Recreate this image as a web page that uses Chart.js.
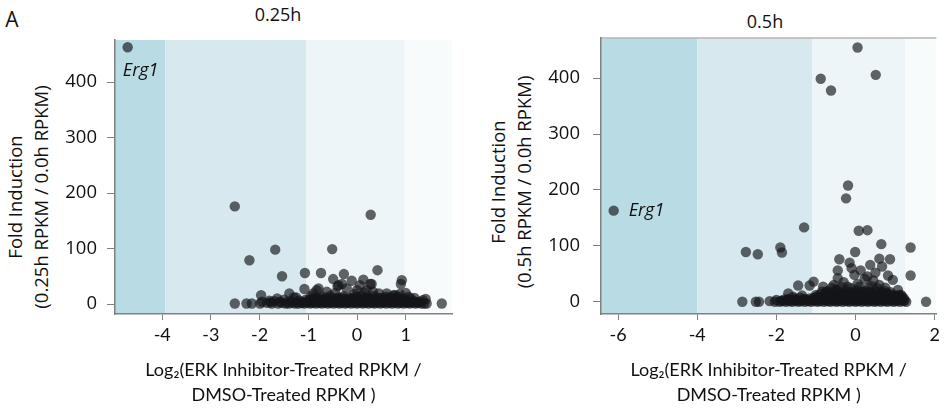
<!DOCTYPE html>
<html>
<head>
<meta charset="utf-8">
<script src="https://cdn.jsdelivr.net/npm/chart.js@4.4.1/dist/chart.umd.min.js"></script>
<style>
  body { margin: 0; background: #fff; width: 944px; height: 410px; position: relative; overflow: hidden;
         font-family: "Open Sans", sans-serif; color: #111; }
  canvas { position: absolute; top: 0; }
  .lbl { position: absolute; white-space: nowrap; transform: translate(-50%, -50%); }
  .ytitle { position: absolute; white-space: nowrap; text-align: center; font-size: 18.5px; line-height: 26px;
            transform: translate(-50%, -50%) rotate(-90deg); }
</style>
</head>
<body>
<div class="lbl" style="left:12px;top:19px;font-size:21px">A</div>
<div class="lbl" style="left:278px;top:14px;font-size:18px">0.25h</div>
<div class="lbl" style="left:765px;top:21px;font-size:18px">0.5h</div>
<div class="ytitle" style="left:28px;top:197px">Fold Induction<br>(0.25h RPKM / 0.0h RPKM)</div>
<div class="ytitle" style="left:511px;top:182px">Fold Induction<br>(0.5h RPKM / 0.0h RPKM)</div>
<canvas id="c1" width="470" height="410" style="left:0"></canvas>
<canvas id="c2" width="470" height="410" style="left:474px"></canvas>
<script>
// tick labels
var xTicks025 = [-4, -3, -2, -1, 0, 1];
var xTicks05 = [-6, -4, -2, 0, 2];
var yTicks = [0, 100, 200, 300, 400];

// shaded band boundaries (log2 ratio)
var bands025 = [-3.94, -1.04, 0.98];
var bands05 = [-4.0, -1.1, 1.25];

// 0.25h: log2 ratio / fold induction
var ratio025 = [
  -4.71, -2.51, 0.28, -1.68, -0.51, -2.21, -1.54, -1.07, -0.74, 0.42, -0.27, -0.49, 0.92, 0.90, 0.13,
  -0.11, -0.40, 0.06, 0.30, -0.31, -1.08, -0.79, -1.97, -1.39, 0.61, 0.75, 0.85, 0.33, -0.21, 0.00,
  0.20, -0.38, 0.27, -0.83, 0.78,
  -2.51, -2.27, -2.16, -1.99, -1.85, -1.75, -1.62, -1.55, -1.47, -1.40, -1.33, -1.27, -1.20, -1.14,
  -1.08, -1.02, -0.96, -0.90, -0.84, -0.78, -0.72, -0.66, -0.60, -0.54, -0.48, -0.42, -0.36, -0.30,
  -0.24, -0.18, -0.12, -0.06, 0.00, 0.06, 0.12, 0.18, 0.24, 0.30, 0.36, 0.42, 0.48, 0.54, 0.60, 0.66,
  0.72, 0.78, 0.84, 0.90, 0.96, 1.02, 1.08, 1.14, 1.20, 1.26, 1.32, 1.38, 1.43, 1.74,
  -1.95, -1.78, -1.70, -1.58, -1.44, -1.36, -1.24, -1.12,
  -1.05, -0.99, -0.93, -0.87, -0.81, -0.75, -0.69, -0.63, -0.57, -0.51, -0.45, -0.39, -0.33, -0.27,
  -0.21, -0.15, -0.09, -0.03, 0.03, 0.09, 0.15, 0.21, 0.27, 0.33, 0.39, 0.45, 0.51, 0.57, 0.63, 0.69,
  0.75, 0.81, 0.87, 0.93, 0.99, 1.05, 1.11, 1.17, 1.23, 1.29, 1.35, 1.41,
  -1.80, -1.64, -1.50, -1.30, -1.18, -1.05, -0.98, -0.90, -0.82, -0.74, -0.66, -0.58, -0.50, -0.42,
  -0.34, -0.26, -0.18, -0.10, -0.02, 0.06, 0.14, 0.22, 0.30, 0.38, 0.46, 0.54, 0.62, 0.70, 0.78, 0.86,
  0.94, 1.02, 1.10, 1.18,
  -0.94, -0.86, -0.78, -0.70, -0.62, -0.54, -0.46, -0.38, -0.30, -0.22, -0.14, -0.06, 0.02, 0.10,
  0.18, 0.26, 0.34, 0.42, 0.50, 0.58, 0.66, 0.74, 0.82, 0.90, 0.98, 1.06,
  -1.25, -0.95, -0.85, -0.70, -0.55, -0.40, -0.28, -0.15, -0.02, 0.10, 0.22, 0.35, 0.48, 0.60, 0.72,
  0.88, 1.00,
  -0.90, -0.62, -0.45, -0.05, 0.15, 0.45, 0.52, 0.68
];
var fold025 = [
  463, 176, 161, 98, 99, 79, 50, 56, 56, 61, 54, 45, 43, 36, 44,
  42, 32, 34, 36, 36, 27, 28, 16, 19, 19, 16, 13, 22, 28, 25,
  25, 34, 36, 25, 16,
  1, 1, 1, 1, 2, 1, 1, 2, 1, 1, 2, 1, 1, 2,
  1, 2, 1, 2, 1, 2, 1, 2, 1, 2, 1, 2, 1, 2,
  1, 2, 1, 2, 1, 2, 1, 2, 1, 2, 1, 2, 1, 2, 1, 2,
  1, 2, 1, 2, 1, 2, 1, 2, 1, 2, 1, 1, 1, 1,
  4, 3, 5, 4, 3, 5, 4, 3,
  4, 5, 3, 4, 5, 3, 4, 5, 3, 4, 5, 3, 4, 5,
  3, 4, 5, 3, 4, 5, 3, 4, 5, 3, 4, 5, 3, 4,
  5, 3, 4, 5, 3, 4, 5, 3, 4, 5, 3, 4,
  7, 9, 6, 10, 8, 12, 6, 8, 7, 9, 6, 8, 7, 9,
  6, 8, 7, 9, 6, 8, 7, 9, 6, 8, 7, 9, 6, 8, 7, 9,
  6, 8, 7, 5,
  10, 11, 9, 10, 11, 9, 10, 11, 9, 10, 11, 9, 10, 11,
  9, 10, 11, 9, 10, 11, 9, 10, 11, 9, 10, 9,
  10, 13, 12, 14, 11, 13, 15, 12, 14, 11, 13, 15, 12, 14, 11,
  13, 12,
  18, 20, 19, 22, 20, 18, 21, 19
];

// 0.5h: log2 ratio / fold induction
var ratio05 = [
  -6.11, 0.05, -0.88, 0.51, -0.62, -0.19, -0.24, -1.30, 0.08, 0.30, 0.65, 1.39, -2.77, -2.47, -1.90,
  -1.86, -0.01, -0.41, -0.15, 0.60, 0.87, 0.37, 0.67, -0.45, 0.13, -0.03, -0.45, 0.23, 0.94, 1.39,
  -1.45, -1.16, -1.06, -0.82, 0.60, 1.07, -0.20, -0.74, 0.19, -1.70, -1.58, 1.15, -0.49,
  -0.30, 0.05, 0.40, 0.75, -0.55, 0.30, 0.50, -0.10, 0.82, 0.45,
  -2.86, -2.52, -2.44, -2.17, -2.04, -1.92, -1.84, -1.76, -1.68, -1.60, -1.52, -1.44, -1.36, -1.28,
  -1.20, -1.12, -1.04, -0.96, -0.88, -0.80, -0.72, -0.64, -0.56, -0.48, -0.40, -0.32, -0.24, -0.16,
  -0.08, 0.00, 0.08, 0.16, 0.24, 0.32, 0.40, 0.48, 0.56, 0.64, 0.72, 0.80, 0.88, 0.96, 1.04, 1.12,
  1.20, 1.28, 1.78,
  -2.00, -1.88, -1.80, -1.72, -1.64, -1.56, -1.48, -1.40, -1.32, -1.24, -1.16, -1.08, -1.00, -0.92,
  -0.84, -0.76, -0.68, -0.60, -0.52, -0.44, -0.36, -0.28, -0.20, -0.12, -0.04, 0.04, 0.12, 0.20,
  0.28, 0.36, 0.44, 0.52, 0.60, 0.68, 0.76, 0.84, 0.92, 1.00, 1.08, 1.16, 1.24,
  -1.70, -1.55, -1.40, -1.28, -1.16, -1.05, -0.95, -0.85, -0.75, -0.65, -0.55, -0.45, -0.35, -0.25,
  -0.15, -0.05, 0.05, 0.15, 0.25, 0.35, 0.45, 0.55, 0.65, 0.75, 0.85, 0.95, 1.05, 1.15, 1.22,
  -0.98, -0.90, -0.82, -0.74, -0.66, -0.58, -0.50, -0.42, -0.34, -0.26, -0.18, -0.10, -0.02, 0.06,
  0.14, 0.22, 0.30, 0.38, 0.46, 0.54, 0.62, 0.70, 0.78, 0.86, 0.94, 1.02, 1.10, 1.18,
  -1.35, -1.00, -0.90, -0.80, -0.70, -0.60, -0.50, -0.40, -0.30, -0.20, -0.10, 0.00, 0.10, 0.20,
  0.30, 0.40, 0.50, 0.60, 0.70, 0.80, 0.90, 1.00, 1.10,
  -0.75, -0.55, -0.40, -0.28, -0.16, -0.04, 0.08, 0.20, 0.32, 0.44, 0.56, 0.68, 0.80,
  -0.85, -0.70, -0.58, -0.46, -0.34, -0.22, -0.10, 0.02, 0.14, 0.26, 0.38, 0.50, 0.62, 0.74, 0.88,
  -0.60, -0.35, -0.12, 0.10, 0.32, 0.55
];
var fold05 = [
  163, 455, 399, 406, 378, 208, 185, 133, 127, 128, 103, 97, 89, 85, 97,
  88, 89, 76, 70, 77, 76, 66, 63, 56, 56, 48, 42, 41, 39, 47,
  29, 29, 36, 27, 30, 21, 27, 18, 18, 15, 9, 12, 23,
  35, 32, 28, 25, 30, 45, 52, 60, 47, 38,
  0, 0, 0, 1, 0, 0, 1, 0, 1, 0, 1, 0, 1, 0,
  1, 0, 1, 0, 1, 0, 1, 0, 1, 0, 1, 0, 1, 0,
  1, 0, 1, 0, 1, 0, 1, 0, 1, 0, 1, 0, 1, 0, 1, 0,
  1, 0, 0,
  3, 2, 4, 3, 2, 4, 3, 2, 4, 3, 2, 4, 3, 2,
  4, 3, 2, 4, 3, 2, 4, 3, 2, 4, 3, 2, 4, 3,
  2, 4, 3, 2, 4, 3, 2, 4, 3, 2, 4, 3, 2,
  5, 6, 7, 5, 6, 7, 5, 6, 7, 5, 6, 7, 5, 6,
  7, 5, 6, 7, 5, 6, 7, 5, 6, 7, 5, 6, 7, 5, 6,
  9, 8, 10, 9, 8, 10, 9, 8, 10, 9, 8, 10, 9, 8,
  10, 9, 8, 10, 9, 8, 10, 9, 8, 10, 9, 8, 10, 9,
  11, 12, 13, 11, 12, 13, 11, 12, 13, 11, 12, 13, 11, 12,
  13, 11, 12, 13, 11, 12, 13, 11, 12,
  15, 14, 16, 15, 14, 16, 15, 14, 16, 15, 14, 16, 15,
  18, 19, 17, 20, 18, 19, 17, 20, 18, 19, 17, 20, 18, 19, 17,
  25, 26, 24, 27, 25, 24
];

var bandColors = ['#b9dbe3', '#d7e9ee', '#eef5f8', '#f8fbfc'];
var axisGrey = '#808080';

var bandPlugin = {
  id: 'bands',
  beforeDraw: function(chart, args, o) {
    var ctx = chart.ctx, a = chart.chartArea, x = chart.scales.x;
    var edges = [a.left].concat(o.edges.map(function(v) { return x.getPixelForValue(v); }), [a.right]);
    ctx.save();
    for (var i = 0; i < edges.length - 1; i++) {
      ctx.fillStyle = bandColors[i];
      ctx.fillRect(edges[i], a.top, edges[i + 1] - edges[i], a.bottom - a.top);
    }
    if (o.topLine) {
      ctx.strokeStyle = '#b5b5b5';
      ctx.lineWidth = 1.5;
      ctx.beginPath();
      ctx.moveTo(a.left, a.top);
      ctx.lineTo(a.right, a.top);
      ctx.stroke();
    }
    ctx.restore();
  }
};

var geneLabel = {
  id: 'geneLabel',
  afterDatasetsDraw: function(chart, args, o) {
    var ctx = chart.ctx;
    ctx.save();
    ctx.font = 'italic 18px "Open Sans"';
    ctx.fillStyle = '#111';
    ctx.textAlign = o.align;
    ctx.textBaseline = 'middle';
    ctx.fillText(o.text, chart.scales.x.getPixelForValue(o.x) + o.dx, chart.scales.y.getPixelForValue(o.y) + o.dy);
    ctx.restore();
  }
};

function makeChart(id, xs, ys, p) {
  var pts = xs.map(function(v, i) { return {x: v, y: ys[i]}; });
  return new Chart(document.getElementById(id), {
    type: 'scatter',
    data: { datasets: [{ data: pts, pointRadius: 5.2, pointHoverRadius: 5.2, pointBorderWidth: 0,
                         backgroundColor: 'rgba(20,22,24,0.66)' }] },
    plugins: [bandPlugin, geneLabel],
    options: {
      responsive: false,
      animation: false,
      events: [],
      layout: { padding: { top: p.top, right: p.right, left: 0, bottom: 0 } },
      plugins: {
        legend: { display: false },
        tooltip: { enabled: false },
        bands: { edges: p.bands, topLine: p.topLine },
        geneLabel: { text: 'Erg1', x: xs[0], y: ys[0], dx: p.labelDx, dy: p.labelDy, align: p.labelAlign }
      },
      scales: {
        x: {
          type: 'linear', min: p.xMin, max: p.xMax,
          afterBuildTicks: function(s) { s.ticks = p.xTicks.map(function(v) { return {value: v}; }); },
          afterFit: function(s) { s.height = 96; },
          grid: { drawOnChartArea: false, tickLength: 6, color: axisGrey },
          border: { color: axisGrey, width: 1.5 },
          ticks: { font: { family: 'Lato', size: 18 }, color: '#111', padding: 4, maxRotation: 0 },
          title: { display: true, text: ['Log\u2082(ERK Inhibitor-Treated RPKM /', 'DMSO-Treated RPKM )'],
                   font: { family: 'Lato', size: 18, lineHeight: '25px' }, color: '#111',
                   padding: { top: 0, bottom: 2 } }
        },
        y: {
          type: 'linear', min: p.yMin, max: p.yMax,
          afterBuildTicks: function(s) { s.ticks = yTicks.map(function(v) { return {value: v}; }); },
          afterFit: function(s) { s.width = p.yWidth; },
          grid: { drawOnChartArea: false, tickLength: 8, color: axisGrey },
          border: { color: axisGrey, width: 1.5 },
          ticks: { font: { family: 'Open Sans', size: 18.5 }, color: '#111', padding: p.yPad }
        }
      }
    }
  });
}

makeChart('c1', ratio025, fold025, {
  top: 40, right: 18, yWidth: 115, yPad: 10,
  xMin: -4.97, xMax: 1.95, yMin: -18, yMax: 476, xTicks: xTicks025,
  bands: bands025, topLine: false, labelDx: 13, labelDy: 24, labelAlign: 'center'
});
makeChart('c2', ratio05, fold05, {
  top: 38, right: 7, yWidth: 127, yPad: 13,
  xMin: -6.43, xMax: 2.04, yMin: -22, yMax: 472, xTicks: xTicks05,
  bands: bands05, topLine: true, labelDx: 15, labelDy: 0, labelAlign: 'left'
});
</script>
</body>
</html>
